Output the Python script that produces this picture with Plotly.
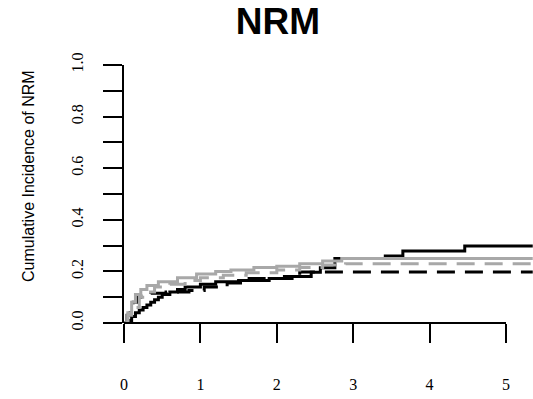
import plotly.graph_objects as go

# Time points (years) and cumulative incidence for the four groups
black_solid_x = [0, 0.05, 0.1, 0.15, 0.2, 0.25, 0.3, 0.35, 0.4, 0.45, 0.5, 0.6, 0.7, 0.8, 1.0, 1.2, 1.5, 1.9, 2.2, 2.45, 2.57, 2.76, 3.42, 3.65, 4.46, 5.35]
black_solid_y = [0, 0.01, 0.025, 0.04, 0.05, 0.06, 0.07, 0.08, 0.09, 0.10, 0.11, 0.12, 0.13, 0.14, 0.15, 0.16, 0.165, 0.172, 0.18, 0.197, 0.214, 0.25, 0.26, 0.279, 0.298, 0.298]

black_dash_x = [0, 0.04, 0.08, 0.12, 0.17, 0.22, 0.35, 0.55, 0.85, 1.05, 1.35, 1.6, 2.1, 2.3, 5.35]
black_dash_y = [0, 0.03, 0.06, 0.08, 0.10, 0.11, 0.115, 0.12, 0.126, 0.14, 0.155, 0.172, 0.18, 0.198, 0.198]

gray_solid_x = [0, 0.05, 0.1, 0.15, 0.22, 0.3, 0.45, 0.7, 0.95, 1.2, 1.4, 1.7, 2.0, 2.3, 2.6, 2.85, 5.35]
gray_solid_y = [0, 0.04, 0.08, 0.11, 0.13, 0.145, 0.16, 0.175, 0.19, 0.20, 0.205, 0.215, 0.22, 0.23, 0.24, 0.25, 0.25]

gray_dash_x = [0, 0.05, 0.1, 0.2, 0.3, 0.4, 0.6, 0.8, 1.0, 1.3, 1.6, 2.0, 2.3, 2.6, 2.9, 5.35]
gray_dash_y = [0, 0.03, 0.06, 0.10, 0.12, 0.14, 0.15, 0.165, 0.175, 0.185, 0.195, 0.205, 0.215, 0.225, 0.23, 0.23]

x_ticks = [0, 1, 2, 3, 4, 5]
y_ticks = [0.0, 0.2, 0.4, 0.6, 0.8, 1.0]
y_tick_labels = ["0.0", "0.2", "0.4", "0.6", "0.8", "1.0"]

title_text = "NRM"
y_title = "Cumulative Incidence of NRM"

fig = go.Figure()
series = [
    (black_solid_x, black_solid_y, "black", "solid"),
    (black_dash_x, black_dash_y, "black", "18px,10px"),
    (gray_solid_x, gray_solid_y, "#a8a8a8", "solid"),
    (gray_dash_x, gray_dash_y, "#a8a8a8", "18px,10px"),
]
for xs, ys, col, dash in series:
    fig.add_trace(go.Scatter(x=xs, y=ys, mode="lines", line_shape="hv",
                             line=dict(color=col, width=3, dash=dash),
                             showlegend=False, hoverinfo="skip"))

W, H = 533, 399
ml, mt, mb = 124, 65, 76
px_per_unit = 76.4
x_max = (W - ml) / px_per_unit

serif = "Liberation Serif, Times New Roman, serif"
sans = "Liberation Sans, Arial, sans-serif"

fig.update_layout(
    width=W, height=H,
    margin=dict(l=ml, r=0, t=mt, b=mb, pad=0),
    paper_bgcolor="white", plot_bgcolor="white",
    title=dict(text="<b>" + title_text + "</b>", x=278 / W, xref="container", xanchor="center",
               y=1 - 21 / H, yref="container", yanchor="middle",
               font=dict(family=sans, size=37, color="black")),
    xaxis=dict(range=[0, x_max], tickvals=x_ticks, ticktext=[str(v) for v in x_ticks],
               showgrid=False, zeroline=False, showline=False,
               ticks="outside", ticklen=19, tickwidth=2, tickcolor="black",
               tickfont=dict(family=serif, size=16, color="black"),
               ticklabelstandoff=28),
    yaxis=dict(range=[0, 1], tickvals=y_ticks, ticktext=y_tick_labels,
               showgrid=False, zeroline=False, showline=True, linewidth=2, linecolor="black",
               ticks="outside", ticklen=19, tickwidth=2, tickcolor="black",
               minor=dict(dtick=0.1, ticks="outside", ticklen=19, tickwidth=2, tickcolor="black", showgrid=False),
               tickangle=-90,
               tickfont=dict(family=serif, size=16, color="black"),
               ticklabelstandoff=14),
    shapes=[dict(type="line", xref="x", yref="paper", x0=x_ticks[0], x1=x_ticks[-1], y0=0, y1=0,
                 line=dict(color="black", width=2), layer="above")],
    annotations=[dict(text=y_title, xref="paper", yref="paper", x=(28 - ml) / (W - ml),
                      y=(H - mb - 176) / (H - mt - mb), xanchor="center", yanchor="middle",
                      textangle=-90, showarrow=False,
                      font=dict(family=sans, size=16, color="black"))],
)

fig.write_html("out.html")
